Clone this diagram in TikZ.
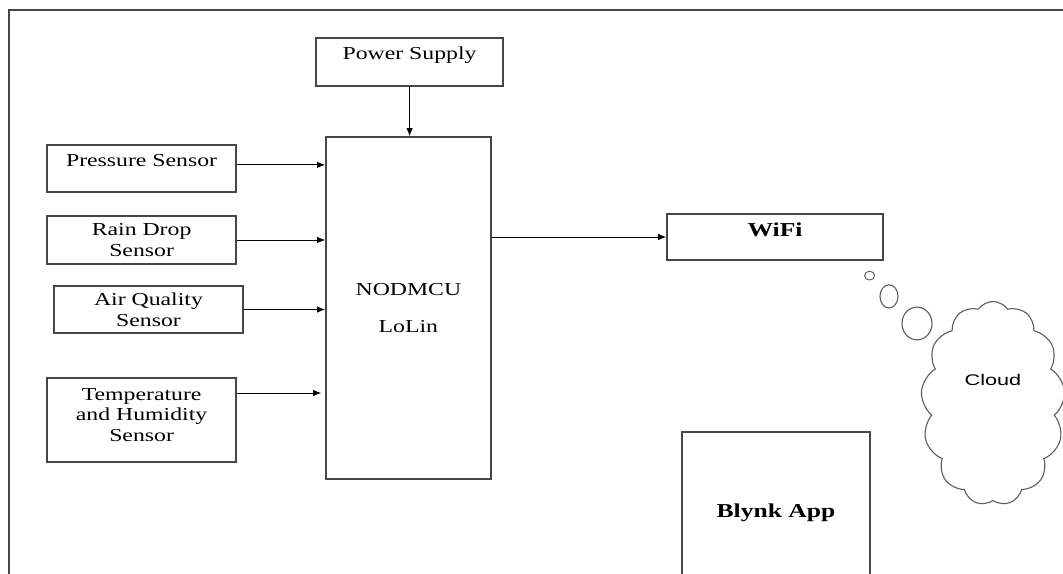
\documentclass[tikz,border=0pt]{standalone}
\usepackage{fontspec}
\setmainfont{Liberation Serif}[FakeStretch=1.3]
\newfontfamily\cloudfont{Liberation Sans}[FakeStretch=1.4]
\usepackage{xcolor}
\definecolor{boxgray}{RGB}{70,70,70}
\definecolor{cloudgray}{RGB}{95,95,95}
\usepackage{tikz}
\usetikzlibrary{arrows.meta,positioning,shapes.symbols}

\begin{document}
\begin{tikzpicture}[
    block/.style={draw=boxgray, line width=1.1pt, minimum width=4.725cm, minimum height=1.2cm, align=center, inner sep=2pt, font=\fontsize{13}{14.6}\selectfont},
    flow/.style={-{Latex[length=2mm, width=1.6mm]}, line width=0.6pt, black}
]
    \useasboundingbox (0,0) rectangle (26.575,14.35);
    \clip (0,0) rectangle (26.575,14.35);

    % Page frame
    \draw[boxgray, line width=1.3pt] (0.225,-1) -- (0.225,14.1) -- (27.5,14.1);

    % Controller and supply
    \node[block, minimum width=4.675cm, text depth=0.45cm] (power) at (10.24,12.8) {Power Supply};
    \node[block, minimum width=4.125cm, minimum height=8.55cm] (mcu) at (10.21,6.65) {NODMCU\\[11.7pt]LoLin};

    % Sensors
    \node[block, minimum height=1.175cm, text depth=0.42cm] (press) at (3.54,10.1375) {Pressure Sensor};
    \node[block] (rain) at (3.54,8.35) {Rain Drop\\Sensor};
    \node[block, minimum height=1.175cm] (air) at (3.7125,6.6125) {Air Quality\\Sensor};
    \node[block, minimum height=2.1cm, text depth=0.25cm] (temp) at (3.54,3.85) {Temperature\\and Humidity\\Sensor};

    % Output side
    \node[block, minimum width=5.4cm, minimum height=1.15cm, text depth=0.35cm, font=\bfseries\fontsize{14}{16}\selectfont] (wifi) at (19.375,8.425) {WiFi};
    \node[block, minimum width=4.7cm, minimum height=4.05cm, font=\bfseries\fontsize{14}{16}\selectfont] (blynk) at (19.4,1.525) {Blynk App};
    \node[cloud, cloud puffs=13, cloud puff arc=110, cloud ignores aspect, draw=cloudgray, line width=0.8pt, minimum width=3.6cm, minimum height=5.1cm, text depth=1.175cm, font=\cloudfont\fontsize{11}{13}\selectfont] (cloud) at (24.825,4.2625) {Cloud};

    % Thought bubbles
    \draw[cloudgray, line width=0.7pt] (21.74,7.46) ellipse (0.125 and 0.11);
    \draw[cloudgray, line width=0.8pt] (22.225,6.94) ellipse (0.225 and 0.29);
    \draw[cloudgray, line width=0.8pt] (22.925,6.2625) ellipse (0.375 and 0.41);

    % Connections
    \draw[flow] (power.south) -- (power.south |- mcu.north);
    \draw[flow] ([yshift=0.9mm]press.east) -- ([yshift=0.9mm]press.east -| mcu.west);
    \draw[flow] (rain.east) -- (rain.east -| mcu.west);
    \draw[flow] (air.east) -- (air.east -| mcu.west);
    \draw[flow, shorten >=1mm] ([yshift=6.75mm]temp.east) -- ([yshift=6.75mm]temp.east -| mcu.west);
    \draw[flow] (mcu.east |- wifi.west) -- (wifi.west);
\end{tikzpicture}
\end{document}
